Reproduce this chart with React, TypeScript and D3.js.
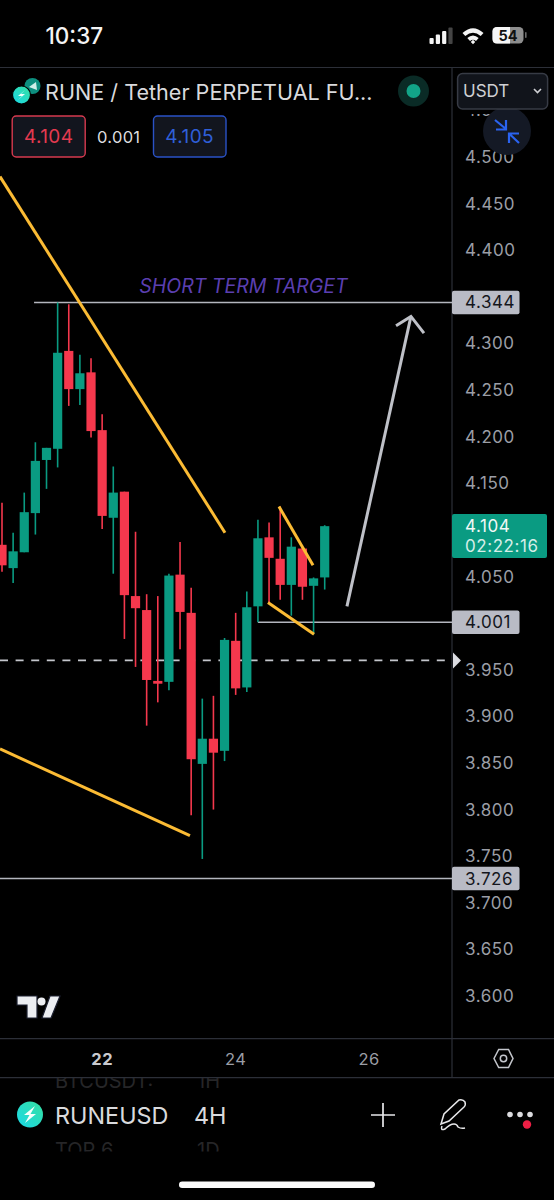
import React from "react";
import * as d3 from "d3";

// Candle series
const highs = [4.129,4.097,4.140,4.194,4.188,4.344,4.342,4.288,4.284,4.224,4.168,4.141,4.098,4.031,4.029,4.053,4.087,4.038,3.919,3.922,3.984,4.011,4.034,4.111,4.108,4.125,4.092,4.081,4.049,4.105];
const lows = [4.055,4.043,4.076,4.095,4.144,4.167,4.233,4.234,4.199,4.101,4.053,3.983,3.953,3.890,3.915,3.928,3.972,3.794,3.747,3.800,3.852,3.923,3.926,4.001,4.021,4.025,4.008,4.025,3.988,4.036];
const opens = [4.084,4.059,4.076,4.118,4.175,4.187,4.292,4.251,4.269,4.207,4.113,4.141,4.029,4.014,3.938,3.937,4.052,4.011,3.849,3.876,3.863,3.981,3.931,4.018,4.092,4.069,4.041,4.080,4.040,4.049];
const closes = [4.062,4.077,4.119,4.174,4.188,4.290,4.251,4.268,4.206,4.115,4.140,4.030,4.016,3.939,3.935,4.051,4.012,3.854,3.876,3.861,3.982,3.930,4.017,4.091,4.070,4.041,4.082,4.039,4.048,4.104];

const priceTicks = [4.55,4.5,4.45,4.4,4.3,4.25,4.2,4.15,4.05,3.95,3.9,3.85,3.8,3.75,3.7,3.65,3.6];
const dateTicks = [{ idx: 9, label: "22", bold: true }, { idx: 21, label: "24", bold: false }, { idx: 33, label: "26", bold: false }];

// Drawings: [bar index, price]
const trendLines: [number, number][][] = [
  [[-0.18,4.479],[20.04,4.097]],
  [[-0.18,3.865],[16.89,3.772]],
  [[24.89,4.125],[27.95,4.062]],
  [[23.9,4.022],[28.04,3.988]],
];
const arrowShaft: [number, number][] = [[31,4.018],[36.75,4.329]];
const arrowHead: [number, number][] = [[35.41,4.319],[36.75,4.329],[37.92,4.311]];
const targetLevel = { from: 2.88, price: 4.344, label: "4.344" };
const supportLevel = { from: 23, price: 4.001, label: "4.001" };
const lowerLevel = { from: -1, price: 3.726, label: "3.726" };
const lastPriceLine = 3.96;

const FONT = "Inter, 'Noto Sans', sans-serif";
const GREEN = "#0a9b82";
const RED = "#f5384d";
const YELLOW = "#fbbb34";
const AXIS = "#9b9ea6";
const LINE = "#b4b6be";

const x = d3.scaleLinear().domain([0, 29]).range([2, 324.7]);
const y = d3.scaleLinear().domain([4.5, 3.6]).range([157, 996]);
const drawLine = d3.line<[number, number]>().x((d) => x(d[0])).y((d) => y(d[1]));
const AXIS_X = 452;

function PriceTag({ price, label }: { price: number; label: string }) {
  const cy = y(price);
  return (
    <g>
      <rect x={AXIS_X} y={cy - 11.8} width={67.5} height={23.6} rx={2} fill="#b9bbc5" />
      <text x={465} y={cy + 6} fontSize={17} letterSpacing={0.55} fill="#14161c" fontFamily={FONT}>{label}</text>
    </g>
  );
}

export default function App() {
  return (
    <svg width={554} height={1200} viewBox="0 0 554 1200" style={{ position: "fixed", left: 0, top: 0, display: "block" }}>
      <defs>
        <linearGradient id="rune" x1="0" y1="1" x2="1" y2="0">
          <stop offset="0" stopColor="#1ad9e8" />
          <stop offset="1" stopColor="#35dfa0" />
        </linearGradient>
        <clipPath id="peekA"><rect x={0} y={1078} width={554} height={20} /></clipPath>
        <clipPath id="peekB"><rect x={0} y={1130} width={554} height={21.5} /></clipPath>
      </defs>
      <rect width={554} height={1200} fill="#000" />

      {/* status bar */}
      <text x={45.5} y={44} fontSize={22.5} fontWeight={500} fill="#f4f4f4" fontFamily={FONT}>10:37</text>
      {[0, 1, 2, 3].map((i) => (
        <rect key={i} x={429.5 + i * 6.3} y={[38, 34.5, 31, 27.5][i]} width={4.2} height={[6, 9.5, 13, 16.5][i]} rx={1} fill={i === 3 ? "#444" : "#f4f4f4"} />
      ))}
      <path d="M462.5 33 Q473 23.5 483.5 33 L480.7 36 Q473 29.5 465.3 36 Z M467.3 38 Q473 33 478.7 38 L476 41 Q473 38.5 470 41 Z M470.8 42 L473 39.7 L475.2 42 L473 44.3 Z" fill="#f4f4f4" />
      <rect x={492.5} y={27} width={31} height={16.5} rx={4.5} fill="#8e8e8e" />
      <path d="M497 27 H510 V43.5 H497 Q492.5 43.5 492.5 39 V31.5 Q492.5 27 497 27 Z" fill="#f6f6f6" />
      <rect x={525} y={32} width={1.6} height={6} rx={0.8} fill="#6a6a6a" />
      <text x={508} y={41} fontSize={14.5} fontWeight={700} textAnchor="middle" fill="#111" fontFamily={FONT}>54</text>

      {/* frame */}
      <line x1={0} x2={554} y1={67.5} y2={67.5} stroke="#2c2f38" strokeWidth={1.2} />
      <line x1={AXIS_X} x2={AXIS_X} y1={67} y2={1078} stroke="#2c2f38" strokeWidth={1.2} />
      <line x1={0} x2={554} y1={1038.7} y2={1038.7} stroke="#2c2f38" strokeWidth={1.2} />
      <line x1={0} x2={554} y1={1077.7} y2={1077.7} stroke="#2c2f38" strokeWidth={1.2} />

      {/* price axis */}
      {priceTicks.map((t) => (
        <text key={t} x={465} y={y(t) + 6} fontSize={17} letterSpacing={0.55} fill={AXIS} fontFamily={FONT}>{t.toFixed(3)}</text>
      ))}

      {/* last price dashed line */}
      <line x1={0} x2={AXIS_X} y1={y(lastPriceLine)} y2={y(lastPriceLine)} stroke="#c4c6cc" strokeWidth={1.7} strokeDasharray="8 7.6" />
      <path d={`M${AXIS_X + 1} ${y(lastPriceLine) - 8} L${AXIS_X + 9} ${y(lastPriceLine)} L${AXIS_X + 1} ${y(lastPriceLine) + 8} Z`} fill="#dcdde2" />

      {/* levels */}
      {[targetLevel, supportLevel, lowerLevel].map((l) => (
        <line key={l.label} x1={Math.max(x(l.from), 0)} x2={AXIS_X} y1={y(l.price)} y2={y(l.price)} stroke={LINE} strokeWidth={1.5} />
      ))}

      {/* candles */}
      {opens.map((o, i) => {
        const c = closes[i];
        const up = c >= o;
        const color = up ? GREEN : RED;
        const top = y(Math.max(o, c));
        const bot = y(Math.min(o, c));
        return (
          <g key={i}>
            <line x1={x(i)} x2={x(i)} y1={y(highs[i])} y2={y(lows[i])} stroke={color} strokeWidth={1.6} />
            <rect x={x(i) - 4.6} y={top} width={9.2} height={Math.max(bot - top, 1)} fill={color} />
          </g>
        );
      })}

      {/* drawings */}
      {trendLines.map((l, i) => (
        <path key={i} d={drawLine(l) ?? ""} fill="none" stroke={YELLOW} strokeWidth={3} />
      ))}
      <path d={drawLine(arrowShaft) ?? ""} fill="none" stroke="#bfc1c8" strokeWidth={3} />
      <path d={drawLine(arrowHead) ?? ""} fill="none" stroke="#bfc1c8" strokeWidth={3} />
      <text x={243.5} y={293} fontSize={19.5} fontStyle="italic" textAnchor="middle" fill="#5b3fb0" fontFamily={FONT}>SHORT TERM TARGET</text>

      {/* tags */}
      <PriceTag price={targetLevel.price} label={targetLevel.label} />
      <PriceTag price={supportLevel.price} label={supportLevel.label} />
      <PriceTag price={lowerLevel.price} label={lowerLevel.label} />
      <rect x={AXIS_X} y={514} width={95} height={44} rx={2} fill="#0a9b82" />
      <text x={465} y={532} fontSize={17} letterSpacing={0.55} fill="#f2f8f6" fontFamily={FONT}>4.104</text>
      <text x={465} y={552} fontSize={17} letterSpacing={0.55} fill="#d6eee8" fontFamily={FONT}>02:22:16</text>

      {/* legend header */}
      <circle cx={32.5} cy={86} r={8} fill="#0d8f7f" />
      <path d="M29 87 L36 82 L37 90 Z" fill="#cfeee8" />
      <circle cx={21.5} cy={95} r={9} fill="url(#rune)" stroke="#000" strokeWidth={1.2} />
      <path d="M25 90 L18 96 L22 96 L18 100 L25 94 L21 94 Z" fill="#f2fffb" />
      <text x={45} y={99.5} fontSize={21.6} fill="#d9dadd" fontFamily={FONT}>RUNE / Tether PERPETUAL FU...</text>
      <circle cx={413.5} cy={91} r={15.5} fill="#0a2b26" />
      <circle cx={413.5} cy={91} r={7} fill="#12a488" />

      <rect x={12.2} y={116} width={73} height={41} rx={4} fill="#12151e" stroke="#d63a4f" strokeWidth={1.4} />
      <text x={48.7} y={143} fontSize={19} letterSpacing={0.4} textAnchor="middle" fill="#e43a50" fontFamily={FONT}>4.104</text>
      <text x={118.7} y={142.5} fontSize={16.5} letterSpacing={0.3} textAnchor="middle" fill="#dcdcdf" fontFamily={FONT}>0.001</text>
      <rect x={153.5} y={116} width={72.5} height={41} rx={4} fill="#12151e" stroke="#2a52c6" strokeWidth={1.4} />
      <text x={189.7} y={143} fontSize={19} letterSpacing={0.4} textAnchor="middle" fill="#2f5fd8" fontFamily={FONT}>4.105</text>

      {/* currency box + scale button */}
      <rect x={453} y={100} width={101} height={14} fill="#000" />
      <circle cx={507} cy={131} r={24} fill="#141925" />
      <path d="M495 120 L506 129 M506 120 V129.5 H496 M519 143 L509 133.5 M509 143 V133.5 H519" fill="none" stroke="#2a63f0" strokeWidth={2.2} />
      <rect x={457.6} y={73.5} width={90} height={35.5} rx={5} fill="#11141b" stroke="#373b45" strokeWidth={1.5} />
      <text x={463} y={97} fontSize={17} fill="#cfd0d4" fontFamily={FONT}>USDT</text>
      <path d="M534 89 L537.5 92.5 L541 89" fill="none" stroke="#cfd0d4" strokeWidth={1.6} />

      {/* time axis */}
      {dateTicks.map((d) => (
        <text key={d.label} x={x(d.idx)} y={1065} fontSize={16.5} letterSpacing={0.5} fontWeight={d.bold ? 700 : 400} textAnchor="middle" fill={d.bold ? "#c9cacf" : AXIS} fontFamily={FONT}>{d.label}</text>
      ))}
      <path d="M494 1058.5 L498.7 1049.5 H508.5 L513 1058.5 L508.5 1067.5 H498.7 Z" fill="none" stroke="#c4c6cc" strokeWidth={1.5} />
      <circle cx={503.5} cy={1058.5} r={3.2} fill="none" stroke="#c4c6cc" strokeWidth={1.5} />

      {/* TradingView logo */}
      <path d="M17 996 H37 V1018 H27 V1005 H17 Z M42 1018 L50 996 H60 L51 1018 Z" fill="#eceef2" stroke="#1c2030" strokeWidth={1.2} />
      <circle cx={41.5} cy={1001.5} r={4} fill="#eceef2" />

      {/* bottom toolbar */}
      <g clipPath="url(#peekA)" fill="#262628" fontFamily={FONT} fontSize={20}>
        <text x={55} y={1088}>BTCUSDT:</text>
        <text x={197} y={1088}>1H</text>
      </g>
      <g clipPath="url(#peekB)" fill="#262628" fontFamily={FONT} fontSize={20}>
        <text x={55} y={1157}>TOP 6</text>
        <text x={197} y={1157}>1D</text>
      </g>
      <circle cx={30} cy={1114.5} r={13} fill="url(#rune)" />
      <path d="M35 1106 L24 1115 L29.5 1115 L25 1123 L36 1114 L30.5 1114 Z" fill="#f5fffc" />
      <text x={55} y={1123.5} fontSize={23.4} fill="#d9dadd" fontFamily={FONT}>RUNEUSD</text>
      <text x={194} y={1123.5} fontSize={23.4} fill="#d9dadd" fontFamily={FONT}>4H</text>
      <path d="M371 1115 H395 M383 1103 V1127" stroke="#e8e8ea" strokeWidth={1.7} fill="none" />
      <path d="M441 1124 L444 1114 L459 1100 Q463 1099 465 1102 Q466 1105 464 1107 L449 1121 Z M442 1126 Q440 1131 445 1129 Q450 1124 454 1124 Q457 1124 458 1127 Q461 1129 465 1128" fill="none" stroke="#e8e8ea" strokeWidth={1.5} />
      {[510, 520, 530].map((cx) => <circle key={cx} cx={cx} cy={1114.5} r={2.8} fill="#dcdcdf" />)}
      <circle cx={527} cy={1124.5} r={4.2} fill="#ee1f45" />
      <rect x={179} y={1181.5} width={196} height={6.5} rx={3.2} fill="#fbfbfb" />
    </svg>
  );
}
